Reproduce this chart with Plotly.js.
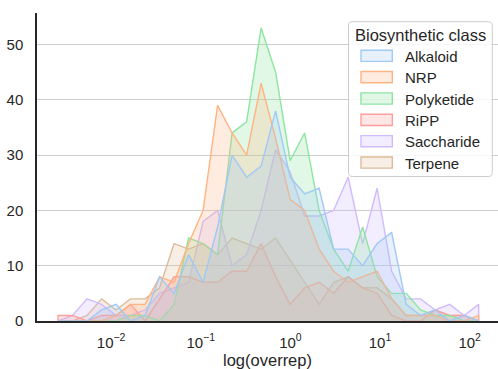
<!DOCTYPE html>
<html>
<head>
<meta charset="utf-8">
<script src="https://cdn.plot.ly/plotly-3.0.1.min.js"></script>
<style>html,body{margin:0;padding:0;background:#fff;}#chart{width:498px;height:369px;}</style>
</head>
<body>
<div id="chart"></div>
<script>
// Histogram bins (log10 of bin centers): first center and common bin width in decades
const binLogStart = -2.592;
const binLogWidth = 0.1618;

const classes = ['Alkaloid', 'NRP', 'Polyketide', 'RiPP', 'Saccharide', 'Terpene'];
const colors = ['#a1c9f4', '#ffb482', '#8de5a1', '#ff9f9b', '#d0bbff', '#debb9b'];

// Counts per bin
const alkaloid   = [0,0,0,2,3,0,1,8,5,12,7,17,30,26,28,38,26,23,24,13,13,10,14,16,3,1,2,0,1,0];
const nrp        = [0,0,0,0,1,3,3,8,7,14,20,39,34,30,43,33,22,20,13,9,7,8,9,4,1,1,1,0,0,1];
const polyketide = [0,0,0,0,0,1,1,0,3,15,14,12,34,36,53,45,29,34,20,13,9,17,8,5,5,2,1,1,0,0];
const ripp       = [1,1,0,1,1,3,0,4,8,8,7,7,9,9,14,8,3,6,7,5,8,6,5,1,0,0,2,1,1,0];
const saccharide = [0,1,4,3,1,1,2,5,6,7,18,20,10,12,20,31,27,19,19,20,26,14,24,9,4,4,2,3,1,3];
const terpene    = [0,0,1,4,2,4,4,6,14,13,14,12,15,14,13,15,11,7,3,7,8,6,6,4,1,1,2,1,1,0];

const series = [alkaloid, nrp, polyketide, ripp, saccharide, terpene];

const xTickVals = [0.01, 0.1, 1, 10, 100];
const xTickText = ['10<sup>\u22122</sup>', '10<sup>\u22121</sup>', '10<sup>0</sup>', '10<sup>1</sup>', '10<sup>2</sup>'];
const yTickVals = [0, 10, 20, 30, 40, 50];

function rgba(hex, a) {
  const n = parseInt(hex.slice(1), 16);
  return 'rgba(' + ((n >> 16) & 255) + ',' + ((n >> 8) & 255) + ',' + (n & 255) + ',' + a + ')';
}

const centers = alkaloid.map((_, i) => Math.pow(10, binLogStart + i * binLogWidth));

// Draw in reverse order so the first class is on top (as seaborn does)
const traces = [];
for (let k = classes.length - 1; k >= 0; k--) {
  const ys = series[k];
  const xs = [centers[0]].concat(centers, [centers[centers.length - 1]]);
  const yy = [0].concat(ys, [0]);
  traces.push({
    type: 'scatter', mode: 'lines', name: classes[k],
    x: xs, y: yy, fill: 'toself',
    fillcolor: rgba(colors[k], 0.25),
    line: {color: colors[k], width: 1.4},
    hoverinfo: 'skip', showlegend: false
  });
}

// Layout geometry
const W = 498, H = 369;
const M = {l: 37, r: 0, t: 13, b: 48};
const pw = W - M.l - M.r, ph = H - M.t - M.b;
const px = x => (x - M.l) / pw;
const py = y => (H - M.b - y) / ph;

const shapes = [];
const annotations = [];

// Legend frame (rounded)
(function () {
  const x0 = 348.5, x1 = 492.3, y0 = 21.7, y1 = 176.5, r = 4;
  const P = (x, y) => px(x).toFixed(5) + ',' + py(y).toFixed(5);
  const path = 'M' + P(x0 + r, y0) + ' L' + P(x1 - r, y0) + ' Q' + P(x1, y0) + ' ' + P(x1, y0 + r) +
    ' L' + P(x1, y1 - r) + ' Q' + P(x1, y1) + ' ' + P(x1 - r, y1) +
    ' L' + P(x0 + r, y1) + ' Q' + P(x0, y1) + ' ' + P(x0, y1 - r) +
    ' L' + P(x0, y0 + r) + ' Q' + P(x0, y0) + ' ' + P(x0 + r, y0) + ' Z';
  shapes.push({type: 'path', xref: 'paper', yref: 'paper', path: path,
    fillcolor: 'rgba(255,255,255,0.8)', line: {color: '#cccccc', width: 1}, layer: 'above'});
})();

annotations.push({xref: 'paper', yref: 'paper', x: px(420.5), y: py(35), text: 'Biosynthetic class',
  showarrow: false, xanchor: 'center', yanchor: 'middle', font: {size: 16.5, color: '#262626'}});

const legendY0 = 55.8, legendDY = 21.35;
classes.forEach((c, k) => {
  const cy = legendY0 + k * legendDY;
  shapes.push({type: 'rect', xref: 'paper', yref: 'paper',
    x0: px(361), x1: px(392.3), y0: py(cy - 5.6), y1: py(cy + 5.6),
    fillcolor: rgba(colors[k], 0.25), line: {color: colors[k], width: 1.4}, layer: 'above'});
  annotations.push({xref: 'paper', yref: 'paper', x: px(402.5), y: py(cy + 0.5), text: c,
    showarrow: false, xanchor: 'left', yanchor: 'middle', font: {size: 15, color: '#262626'}});
});

const layout = {
  width: W, height: H,
  margin: {l: M.l, r: M.r, t: M.t, b: M.b, pad: 0},
  paper_bgcolor: '#ffffff', plot_bgcolor: '#ffffff',
  showlegend: false,
  font: {family: 'Arial, "Liberation Sans", sans-serif', color: '#262626', size: 15},
  xaxis: {
    type: 'log', range: [-2.827, 2.316],
    tickmode: 'array', tickvals: xTickVals, ticktext: xTickText,
    showgrid: false, zeroline: false, ticks: '',
    showline: true, linecolor: '#262626', linewidth: 1.7,
    tickfont: {size: 15, color: '#262626'},
    ticklabelstandoff: 7,
    title: {text: 'log(overrep)', font: {size: 16.5, color: '#262626'}, standoff: 6},
    automargin: false
  },
  yaxis: {
    range: [0, 55.7], tickmode: 'array', tickvals: yTickVals,
    showgrid: true, gridcolor: '#cccccc', gridwidth: 1.2,
    zeroline: false, ticks: '',
    showline: true, linecolor: '#262626', linewidth: 1.7,
    tickfont: {size: 15, color: '#262626'},
    ticklabelstandoff: 9,
    automargin: false
  },
  shapes: shapes,
  annotations: annotations
};

Plotly.newPlot('chart', traces, layout, {staticPlot: true, displayModeBar: false});
</script>
</body>
</html>
